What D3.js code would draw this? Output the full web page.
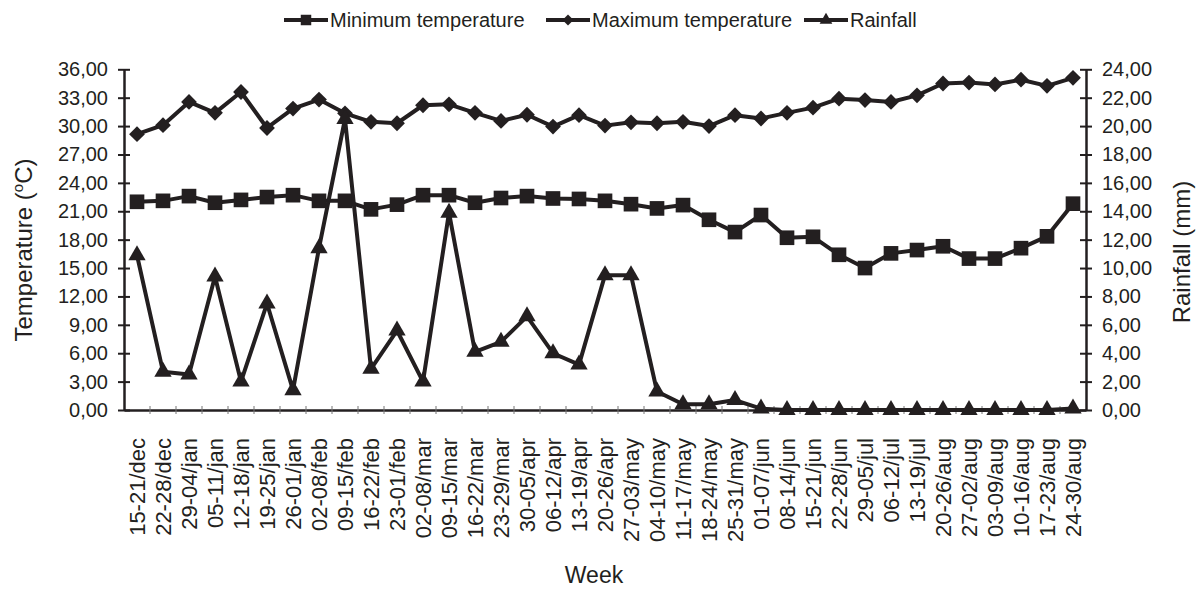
<!DOCTYPE html>
<html>
<head>
<meta charset="utf-8">
<script src="https://cdn.jsdelivr.net/npm/d3@7"></script>
<style>
  body { margin: 0; background: #fff; }
  svg { display: block; font-family: "Liberation Sans", Arial, sans-serif; }
</style>
</head>
<body>
<svg id="chart" width="1196" height="590"></svg>
<script>
// weekly climate data
const weeks = [
  '15-21/dec', '22-28/dec', '29-04/jan', '05-11/jan', '12-18/jan', '19-25/jan', '26-01/jan',
  '02-08/feb', '09-15/feb', '16-22/feb', '23-01/feb', '02-08/mar', '09-15/mar', '16-22/mar',
  '23-29/mar', '30-05/apr', '06-12/apr', '13-19/apr', '20-26/apr', '27-03/may', '04-10/may',
  '11-17/may', '18-24/may', '25-31/may', '01-07/jun', '08-14/jun', '15-21/jun', '22-28/jun',
  '29-05/jul', '06-12/jul', '13-19/jul', '20-26/aug', '27-02/aug', '03-09/aug', '10-16/aug',
  '17-23/aug', '24-30/aug',
];

const minTemp = [
  22.0, 22.1, 22.6, 21.9, 22.2, 22.5, 22.7, 22.1, 22.1, 21.2,
  21.7, 22.7, 22.7, 21.9, 22.4, 22.6, 22.35, 22.3, 22.1, 21.75,
  21.3, 21.65, 20.1, 18.8, 20.6, 18.2, 18.3, 16.4, 15.0, 16.55,
  16.9, 17.3, 16.0, 16.0, 17.1, 18.35, 21.8,
];

const maxTemp = [
  29.15, 30.1, 32.55, 31.4, 33.6, 29.8, 31.85, 32.8, 31.35, 30.45,
  30.3, 32.2, 32.3, 31.4, 30.55, 31.2, 29.95, 31.15, 30.05, 30.4,
  30.3, 30.45, 30.0, 31.15, 30.8, 31.4, 31.95, 32.9, 32.75, 32.55,
  33.25, 34.5, 34.6, 34.4, 34.9, 34.25, 35.1,
];

const rainfall = [
  10.9, 2.7, 2.5, 9.4, 2.0, 7.5, 1.4, 11.4, 20.5, 2.9,
  5.6, 2.0, 13.9, 4.1, 4.8, 6.6, 4.0, 3.2, 9.5, 9.5,
  1.3, 0.4, 0.4, 0.7, 0.1, 0.0, 0.0, 0.0, 0.0, 0.0,
  0.0, 0.0, 0.0, 0.0, 0.0, 0.0, 0.1,
];

const tempTicks = d3.range(0, 36.01, 3);
const rainTicks = d3.range(0, 24.01, 2);

const INK = '#231f20';
const svg = d3.select('#chart');
const margin = { left: 124, right: 110, top: 69.3, bottom: 180 };
const W = +svg.attr('width');
const H = +svg.attr('height');

const x = d3.scaleBand().domain(weeks).range([margin.left, W - margin.right]).padding(0);
const yT = d3.scaleLinear().domain([0, 36]).range([H - margin.bottom, margin.top]);
const yR = d3.scaleLinear().domain([0, 24]).range([H - margin.bottom, margin.top]);
const cx = d => x(d) + x.bandwidth() / 2;
const comma = d => d.toFixed(2).replace('.', ',');

// x axis: labels at category centres, ticks on the category boundaries
const xAxis = svg.append('g')
  .attr('transform', `translate(0,${yT(0)})`)
  .call(d3.axisBottom(x).tickSize(0).tickSizeOuter(0));
xAxis.select('.domain').attr('stroke', INK).attr('stroke-width', 2.5);
xAxis.selectAll('.tick text')
  .attr('transform', 'rotate(-90)')
  .attr('x', -28).attr('y', 0).attr('dy', '0.35em')
  .attr('text-anchor', 'end')
  .attr('font-size', 22)
  .attr('fill', INK);
svg.append('g').selectAll('line')
  .data(weeks.slice(1))
  .join('line')
  .attr('x1', d => x(d)).attr('x2', d => x(d))
  .attr('y1', yT(0) - 4).attr('y2', yT(0) + 4)
  .attr('stroke', '#777').attr('stroke-width', 1);

function styleY(g, side) {
  g.select('.domain').attr('stroke', INK).attr('stroke-width', 2.5);
  g.selectAll('.tick line')
    .attr('x1', -6).attr('x2', 6)
    .attr('stroke', INK).attr('stroke-width', 2);
  g.selectAll('.tick text')
    .attr('font-size', 20)
    .attr('fill', INK)
    .attr('x', side * 16);
}

svg.append('g')
  .attr('transform', `translate(${margin.left},0)`)
  .call(d3.axisLeft(yT).tickValues(tempTicks).tickFormat(comma).tickSizeOuter(0))
  .call(g => styleY(g, -1));

svg.append('g')
  .attr('transform', `translate(${W - margin.right},0)`)
  .call(d3.axisRight(yR).tickValues(rainTicks).tickFormat(comma).tickSizeOuter(0))
  .call(g => styleY(g, 1));

// axis titles
const tTitle = svg.append('text')
  .attr('transform', 'translate(32,250) rotate(-90)')
  .attr('text-anchor', 'middle')
  .attr('font-size', 24)
  .attr('fill', INK);
tTitle.append('tspan').text('Temperature (');
tTitle.append('tspan').attr('font-size', 15).attr('dy', -9).text('o');
tTitle.append('tspan').attr('dy', 9).text('C)');

svg.append('text')
  .attr('transform', 'translate(1190,252) rotate(-90)')
  .attr('text-anchor', 'middle')
  .attr('font-size', 24)
  .attr('fill', INK)
  .text('Rainfall (mm)');

svg.append('text')
  .attr('x', 594).attr('y', 583)
  .attr('text-anchor', 'middle')
  .attr('font-size', 23)
  .attr('fill', INK)
  .text('Week');

// series
const series = [
  { name: 'Minimum temperature', values: minTemp, y: yT, shape: d3.symbolSquare, size: 215, rot: 0, lsize: 110 },
  { name: 'Maximum temperature', values: maxTemp, y: yT, shape: d3.symbolSquare, size: 125, rot: 45, lsize: 60 },
  { name: 'Rainfall', values: rainfall, y: yR, shape: d3.symbolTriangle, size: 130, rot: 0, lsize: 70 },
];

series.forEach(s => {
  const pts = weeks.map((w, i) => [cx(w), s.y(s.values[i])]);
  svg.append('path')
    .attr('d', d3.line()(pts))
    .attr('fill', 'none')
    .attr('stroke', INK)
    .attr('stroke-width', 4)
    .attr('stroke-linejoin', 'round');
  svg.append('g').selectAll('path')
    .data(pts)
    .join('path')
    .attr('d', d3.symbol(s.shape, s.size))
    .attr('transform', d => `translate(${d[0]},${d[1]}) rotate(${s.rot})`)
    .attr('fill', INK);
});

// legend
const legendX = [284, 546, 804];
const legend = svg.append('g').selectAll('g')
  .data(series)
  .join('g')
  .attr('transform', (d, i) => `translate(${legendX[i]},20)`);
legend.append('line')
  .attr('x1', 0).attr('x2', 44)
  .attr('stroke', INK).attr('stroke-width', 4);
legend.append('path')
  .attr('d', d => d3.symbol(d.shape, d.lsize)())
  .attr('transform', d => `translate(22,0) rotate(${d.rot})`)
  .attr('fill', INK);
legend.append('text')
  .attr('x', 46).attr('dy', '0.36em')
  .attr('font-size', 20)
  .attr('fill', INK)
  .text(d => d.name);
</script>
</body>
</html>
